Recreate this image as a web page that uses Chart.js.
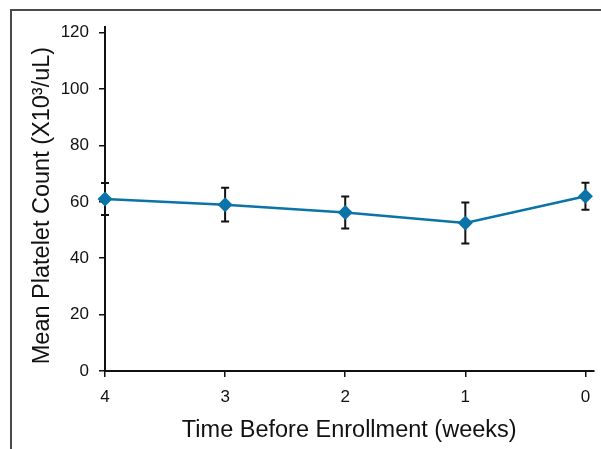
<!DOCTYPE html>
<html>
<head>
<meta charset="utf-8">
<script src="https://cdn.jsdelivr.net/npm/chart.js@4"></script>
<style>
  html, body { margin: 0; padding: 0; background: #fff; }
  #wrap { position: relative; width: 601px; height: 449px; overflow: hidden; }
  #frame { position: absolute; left: 10px; top: 9px; width: 700px; height: 500px;
           border-top: 2px solid #4a4a4a; border-left: 2px solid #4a4a4a; }
  #chart { position: absolute; left: 0; top: 0; }
</style>
</head>
<body>
<div id="wrap">
  <div id="frame"></div>
  <canvas id="chart" width="601" height="449"></canvas>
</div>
<script>
var weeks = [4, 3, 2, 1, 0];
var meanCount = [61, 59, 56.2, 52.5, 62];
var errorMargin = [5.7, 6.0, 5.7, 7.3, 4.8];
var yTicks = [0, 20, 40, 60, 80, 100, 120];

var lineColor = '#0a73a7';
var titleFont = { family: "'Liberation Sans Narrow', 'Arial Narrow', 'Liberation Sans', sans-serif", size: 23.5 };
var tickFont = { family: "'Liberation Sans', Arial, sans-serif", size: 17 };

var errorBars = {
  id: 'errorBars',
  beforeDatasetsDraw: function(chart) {
    var ctx = chart.ctx;
    var x = chart.scales.x, y = chart.scales.y;
    ctx.save();
    ctx.strokeStyle = '#111';
    ctx.lineWidth = 2;
    weeks.forEach(function(w, i) {
      var px = x.getPixelForValue(w);
      var top = y.getPixelForValue(meanCount[i] + errorMargin[i]);
      var bot = y.getPixelForValue(meanCount[i] - errorMargin[i]);
      ctx.beginPath();
      ctx.moveTo(px, top); ctx.lineTo(px, bot);
      ctx.moveTo(px - 4, top); ctx.lineTo(px + 4, top);
      ctx.moveTo(px - 4, bot); ctx.lineTo(px + 4, bot);
      ctx.stroke();
    });
    ctx.restore();
  }
};

new Chart(id('chart'), {
  type: 'line',
  data: {
    datasets: [{
      data: weeks.map(function(w, i) { return { x: w, y: meanCount[i] }; }),
      borderColor: lineColor,
      backgroundColor: lineColor,
      borderWidth: 2.5,
      pointStyle: 'rectRot',
      pointRadius: 7.5,
      pointHoverRadius: 7.5,
      pointBorderWidth: 0,
      clip: false,
      tension: 0
    }]
  },
  options: {
    responsive: false,
    animation: false,
    layout: { padding: { left: 0, top: 27, right: 7, bottom: 0 } },
    plugins: { legend: { display: false }, tooltip: { enabled: false } },
    scales: {
      x: {
        type: 'linear',
        reverse: true,
        min: -0.067,
        max: 4,
        afterFit: function(s) { s.height = 78; },
        ticks: { stepSize: 1, includeBounds: false, color: '#111', font: tickFont, padding: 10, maxRotation: 0 },
        grid: { drawOnChartArea: false, tickLength: 6, color: '#111', lineWidth: 1.5 },
        border: { display: true, color: '#111', width: 2 },
        title: { display: true, text: 'Time Before Enrollment (weeks)', color: '#111', font: titleFont, padding: { top: 0, bottom: 4 } }
      },
      y: {
        min: 0,
        max: 122,
        afterFit: function(s) { s.width = 105; },
        afterBuildTicks: function(s) { s.ticks = yTicks.map(function(v) { return { value: v }; }); },
        ticks: { color: '#111', font: tickFont, padding: 10 },
        grid: { drawOnChartArea: false, tickLength: 6, color: '#111', lineWidth: 1.5 },
        border: { display: true, color: '#111', width: 2 },
        // trailing spaces nudge the rotated title down a little, like the original
        title: { display: true, text: 'Mean Platelet Count (X10³/uL)  ', color: '#111', font: titleFont, padding: { top: 28, bottom: 0 } }
      }
    }
  },
  plugins: [errorBars]
});

function id(id) {
  return document.getElementById(id);
}
</script>
</body>
</html>
